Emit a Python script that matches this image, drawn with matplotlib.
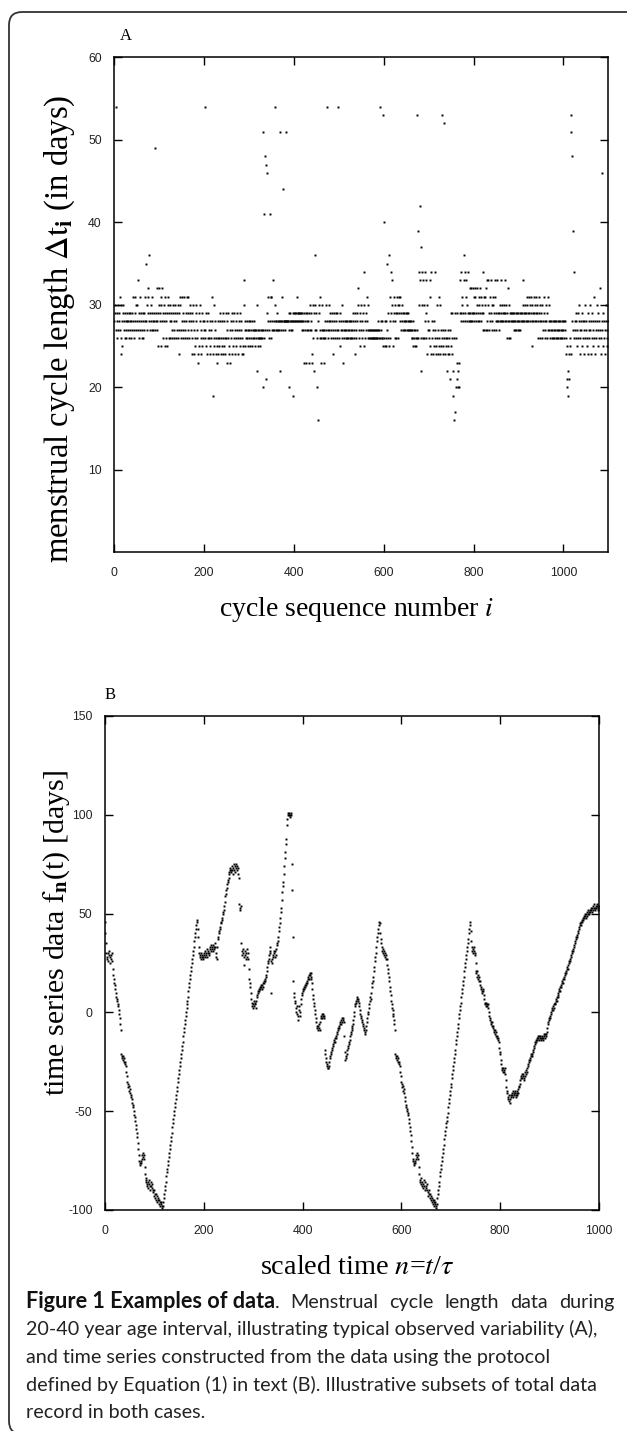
import matplotlib
matplotlib.use("Agg")
import matplotlib.pyplot as plt
import numpy as np
from matplotlib.patches import FancyBboxPatch
from matplotlib.transforms import IdentityTransform

# panel A: menstrual cycle length (days) for cycle i = 0, 1, 2, ...
cycle_days = np.array("""
28 30 29 54 27 28 26 29 30 27 28 29 31 27 30 26 24 25 28 30 29 27 28 26 29 28 27 26 28 29 27 28 29 26 28 27 29 28 26 27 29 28 31 27 26 29 28 31 27 30
30 28 33 27 29 26 28 31 27 29 28 26 27 29 28 26 29 27 28 31 35 28 30 27 32 29 31 28 36 27 29 30 28 31 27 29 28 27 29 28 27 49 28 29 32 27 28 29 25 30
32 29 28 25 30 31 28 32 29 26 30 28 25 29 31 26 28 25 29 31 30 26 29 28 30 26 29 28 27 26 29 30 28 27 26 29 30 28 26 27 29 30 26 27 24 29 30 31 27 26
28 31 27 26 29 28 31 26 27 29 28 31 26 29 27 31 28 26 29 30 27 28 24 26 29 30 28 27 24 26 25 29 28 30 26 27 24 23 29 25 28 30 26 27 24 29 25 28 26 27
28 26 54 27 29 25 24 28 26 29 27 26 24 28 25 27 26 31 28 24 19 30 26 25 27 28 24 26 23 25 26 28 24 25 26 28 29 24 26 25 28 26 29 24 25 28 26 24 29 26
23 27 28 26 29 24 25 23 27 28 26 29 24 27 28 25 26 29 27 24 28 26 25 27 29 24 26 28 27 25 26 29 27 28 24 26 25 24 30 33 27 28 25 26 27 28 26 25 27 28
26 27 28 25 26 27 28 25 27 26 28 27 26 25 27 26 27 22 30 26 27 25 26 27 26 25 27 26 27 26 51 27 20 26 41 27 48 21 47 29 46 27 28 31 26 27 41 28 26 31
31 27 28 27 33 28 27 30 54 28 27 28 29 27 28 27 28 27 28 22 51 28 27 31 28 27 44 28 28 27 28 28 28 51 28 28 28 28 20 29 27 28 29 27 28 27 28 29 28 19
28 29 28 29 28 29 31 28 29 28 29 28 29 28 29 28 29 27 28 29 27 28 23 29 27 28 29 23 27 28 29 27 28 23 29 27 30 28 29 27 23 24 30 26 22 29 27 36 30 29
27 26 20 16 28 29 30 26 27 31 23 26 27 30 26 27 23 26 27 28 26 27 30 28 54 26 27 28 30 27 29 28 26 27 29 28 24 27 26 29 28 27 26 29 28 27 26 29 54 27
28 26 29 25 27 28 30 26 27 28 23 27 26 28 27 26 28 27 26 28 27 26 28 27 26 28 27 26 28 27 26 28 29 27 26 24 28 29 27 26 28 29 32 30 27 26 28 25 29 30
27 28 26 29 27 34 30 25 28 26 27 29 31 28 26 30 27 26 27 26 27 26 27 26 27 26 27 26 27 26 26 27 26 27 26 27 26 27 28 26 27 54 26 28 27 26 28 26 53 25
26 40 25 28 26 25 28 35 27 26 29 25 36 28 31 26 34 29 30 33 28 25 29 31 26 30 28 29 26 31 29 30 26 31 29 30 28 31 27 29 28 30 27 29 28 27 29 28 27 29
28 27 29 28 27 29 28 27 28 27 27 28 26 27 26 28 25 27 26 25 27 26 25 53 26 27 26 39 30 34 42 33 37 26 22 30 34 26 33 30 26 34 28 29 33 26 24 30 28 27
26 27 33 31 25 34 24 28 26 27 24 28 25 34 26 27 24 25 30 26 27 24 31 25 26 30 24 27 25 53 26 24 27 25 26 52 24 27 25 26 22 26 24 27 25 26 24 27 21 25
29 26 24 29 22 19 16 26 29 17 20 26 23 29 21 20 22 23 20 29 33 29 34 28 30 31 29 28 33 36 29 34 28 31 33 30 28 29 34 28 29 28 32 29 28 32 29 28 32 29
31 28 29 32 31 28 29 30 32 28 29 31 30 28 32 29 31 28 29 30 34 27 29 31 27 30 31 27 32 33 28 27 30 33 29 27 31 28 33 29 30 27 28 31 30 29 27 33 31 28
29 27 28 33 29 28 27 29 28 30 28 29 33 28 30 29 28 30 29 28 33 29 30 28 26 29 28 32 26 30 28 29 26 28 29 28 29 28 29 27 28 29 27 28 29 27 28 29 28 27
29 28 27 29 27 28 29 28 29 33 28 30 29 28 29 30 28 29 31 28 30 29 28 31 29 30 28 29 31 25 28 30 29 28 31 29 28 30 29 31 28 29 30 28 26 29 31 28 30 26
28 29 26 30 28 27 29 31 26 28 27 30 28 29 26 27 31 28 30 27 28 26 27 28 26 27 28 26 27 28 26 28 27 26 28 27 26 28 27 26 28 27 26 28 27 26 28 27 26 28
27 28 26 28 27 26 24 25 21 20 19 22 21 24 25 26 53 51 24 28 48 27 39 26 34 28 27 29 26 28 25 27 29 26 28 30 24 27 26 28 27 25 29 28 26 27 24 28 30 26
28 27 25 26 29 24 27 28 26 30 27 28 24 26 29 27 25 28 31 26 28 24 27 26 30 28 25 27 29 26 28 27 32 24 26 46 28 27 25 29 26 28 24 27 30 28 26 25 27 28
""".split(), dtype=float)

# panel B: time series f_n(t) in days for scaled time n = 0, 1, 2, ...
series_days = np.array("""
46 40 35 30 28 27 30 26 29 31 28 25 27 29 30 26 22 19 17 15
14 12 10 8 7 6 4 3 1 -1 -3 -6 -9 -21 -22 -23 -22 -24 -25 -23
-26 -25 -27 -30 -32 -35 -36 -38 -37 -40 -39 -41 -43 -42 -44 -46 -47 -48 -50 -52
-53 -55 -57 -59 -61 -63 -66 -69 -72 -75 -76 -77 -75 -76 -74 -72 -71 -73 -72 -74
-78 -82 -85 -86 -84 -87 -88 -86 -89 -87 -85 -88 -90 -86 -88 -89 -87 -90 -91 -93
-90 -92 -94 -92 -95 -93 -96 -94 -95 -97 -95 -96 -98 -97 -96 -98 -99 -98 -96 -94
-92 -90 -88 -86 -83 -81 -79 -77 -75 -73 -71 -69 -67 -65 -63 -61 -58 -56 -54 -52
-50 -48 -46 -44 -42 -40 -38 -35 -33 -31 -29 -27 -25 -23 -21 -19 -17 -15 -12 -10
-8 -6 -4 -2 0 2 4 6 8 11 13 15 17 19 21 23 25 27 29 31
33 36 38 40 42 44 46 47 42 38 33 30 28 29 27 30 28 29 27 28
30 29 28 31 29 30 28 32 30 31 29 30 32 33 31 34 32 33 31 34
33 32 35 33 30 28 27 33 37 38 40 41 42 43 45 46 47 48 50 51
52 54 56 59 60 62 63 65 66 67 68 70 71 72 73 72 71 74 72 70
73 75 72 74 71 73 75 72 74 70 73 68 55 53 52 54 35 31 29 32
30 24 28 31 29 27 30 32 28 30 27 22 17 15 13 10 7 5 3 4
2 6 3 5 4 2 6 8 9 11 10 12 11 13 12 14 13 12 14 15
13 16 15 17 16 18 19 21 23 25 26 27 29 31 33 30 26 10 27 25
28 29 31 30 28 31 29 32 34 35 36 38 41 43 45 48 51 53 57 61
64 66 70 74 78 81 85 88 95 98 100 101 100 101 99 100 101 100 75 62
38 16 10 8 6 5 2 0 3 -1 -2 -4 1 3 -2 0 4 7 10 9
12 11 13 12 14 13 15 14 16 15 17 18 17 19 20 19 18 20 17 15
12 9 7 5 3 1 -1 -3 -5 -7 -8 -9 -7 -8 -6 -9 -5 -3 -2 -3
-1 -2 -1 -3 -2 -19 -21 -23 -25 -26 -27 -28 -28 -27 -25 -23 -22 -21 -20 -19
-18 -17 -16 -15 -14 -15 -13 -12 -13 -11 -10 -9 -8 -8 -7 -6 -5 -6 -4 -5
-3 -4 -3 -5 -12 -20 -24 -23 -22 -21 -19 -18 -17 -16 -15 -14 -12 -11 -10 -9
-8 -7 -6 -4 -2 0 3 4 5 6 7 8 7 6 5 3 1 -1 -2 -3
-4 -5 -6 -7 -8 -9 -10 -11 -9 -7 -5 -3 -1 0 2 4 6 8 7 10
13 15 16 18 21 23 26 28 30 33 36 38 40 42 44 46 45 40 37 35
33 31 30 32 29 31 28 30 27 29 27 24 22 20 18 16 13 11 9 6
4 2 1 -1 -2 -4 -6 -9 -21 -22 -23 -22 -24 -25 -23 -26 -25 -27 -30 -32
-35 -36 -38 -37 -40 -39 -41 -43 -45 -47 -48 -49 -50 -51 -52 -54 -56 -58 -60 -62
-65 -68 -71 -74 -75 -76 -77 -75 -76 -74 -72 -71 -73 -72 -74 -78 -82 -85 -86 -84
-87 -88 -86 -89 -87 -85 -88 -90 -86 -88 -89 -87 -90 -91 -93 -90 -92 -94 -92 -95
-93 -96 -94 -95 -97 -95 -96 -98 -97 -96 -98 -99 -97 -94 -92 -90 -88 -86 -83 -81
-79 -77 -75 -73 -71 -69 -67 -64 -62 -60 -58 -56 -55 -53 -51 -48 -46 -44 -42 -40
-38 -36 -33 -31 -29 -27 -25 -23 -21 -19 -16 -14 -12 -10 -8 -6 -3 -1 1 3
5 8 10 12 14 16 18 21 23 25 27 29 31 33 35 37 40 42 44 46
41 36 33 31 30 32 31 33 30 29 25 21 20 18 21 19 17 16 18 16
14 12 13 11 10 12 11 9 7 5 4 3 5 4 3 4 2 0 -2 -3
-4 -5 -6 -7 -5 -8 -7 -9 -10 -9 -11 -12 -10 -13 -12 -14 -13 -15 -18 -20
-21 -24 -26 -28 -29 -28 -30 -29 -30 -28 -31 -34 -38 -40 -41 -43 -44 -42 -45 -46
-44 -43 -42 -41 -42 -40 -43 -41 -42 -40 -41 -43 -42 -41 -40 -42 -41 -39 -38 -37
-36 -34 -33 -32 -31 -33 -32 -31 -34 -33 -32 -30 -31 -29 -30 -28 -27 -26 -25 -24
-24 -23 -22 -21 -22 -21 -20 -19 -18 -17 -16 -15 -15 -14 -13 -14 -12 -13 -14 -12
-13 -12 -13 -14 -13 -12 -14 -13 -11 -12 -13 -11 -12 -11 -10 -8 -6 -5 -4 -3
-3 -2 0 -1 1 2 1 3 2 4 5 4 6 7 6 8 9 8 10 11
12 11 13 14 13 15 16 15 17 18 17 19 20 21 20 22 23 22 24 25
26 27 26 28 29 30 31 32 31 33 34 35 36 37 38 39 38 40 41 42
43 44 45 44 46 47 46 48 47 49 48 50 49 48 50 51 49 50 52 51
50 52 51 53 52 51 53 54 52 53 55 53 52 54 53 55 54 52 53 54
""".split(), dtype=float)

a_xticks = [0, 200, 400, 600, 800, 1000]
a_yticks = [10, 20, 30, 40, 50, 60]
b_xticks = [0, 200, 400, 600, 800, 1000]
b_yticks = [-100, -50, 0, 50, 100, 150]

caption_bold = "Figure 1 Examples of data"
caption_first = ["Menstrual", "cycle", "length", "data", "during"]
caption_rest = [
    "20-40 year age interval, illustrating typical observed variability (A),",
    "and time series constructed from the data using the protocol",
    "defined by Equation (1) in text (B). Illustrative subsets of total data",
    "record in both cases.",
]

W, H = 627, 1431
plt.rcParams["mathtext.fontset"] = "stix"
plt.rcParams["axes.unicode_minus"] = False
fig = plt.figure(figsize=(W / 100, H / 100), dpi=100)
renderer = fig.canvas.get_renderer()


def box(x0, y0, x1, y1):
    # pixel box (top-left origin) -> figure fraction rect
    return [x0 / W, 1 - y1 / H, (x1 - x0) / W, (y1 - y0) / H]


def style(ax):
    for s in ax.spines.values():
        s.set_linewidth(1.1)
    ax.tick_params(direction="in", length=5.8, width=1.0, top=True, right=True,
                   labelsize=8.8, colors="black", labelcolor="#222222")
    ax.tick_params(axis="y", pad=9.0)
    ax.tick_params(axis="x", pad=10.5)
    for lab in ax.get_xticklabels() + ax.get_yticklabels():
        lab.set_family("Liberation Sans")


serif = "Liberation Serif"

# ---- panel A
axA = fig.add_axes(box(114.3, 57.3, 608.3, 552.3))
axA.plot(np.arange(len(cycle_days)), cycle_days, ls="none", marker="s",
         ms=1.4, mew=0, color="black")
axA.set_xlim(0, 1100)
axA.set_ylim(0, 60)
axA.set_xticks(a_xticks)
axA.set_yticks(a_yticks)
style(axA)

fig.text(126 / W, 1 - 36 / H, "A", family=serif, fontsize=12, ha="center", va="center")
fig.text(60 / W, 1 - 329 / H, r"menstrual cycle length $\Delta\mathrm{t}_{\mathbf{i}}$ (in days)",
         family=serif, fontsize=23.5, rotation=90, ha="center", va="center")
fig.text(357 / W, 1 - 609 / H, r"cycle sequence number $i$",
         family=serif, fontsize=20, ha="center", va="center")

# ---- panel B
axB = fig.add_axes(box(105, 716, 599, 1210))
axB.plot(np.arange(len(series_days)), series_days, ls="none", marker="s",
         ms=1.4, mew=0, color="black")
axB.set_xlim(0, 1000)
axB.set_ylim(-100, 150)
axB.set_xticks(b_xticks)
axB.set_yticks(b_yticks)
style(axB)

fig.text(110 / W, 1 - 695 / H, "B", family=serif, fontsize=12, ha="center", va="center")
fig.text(57 / W, 1 - 933 / H, r"time series data $\mathrm{f}_{\mathbf{n}}$(t) [days]",
         family=serif, fontsize=21.5, rotation=90, ha="center", va="center")
fig.text(357 / W, 1 - 1268 / H, r"scaled time $n$=$t$/$\tau$",
         family=serif, fontsize=20.3, ha="center", va="center")

# ---- caption
cap_font = "Lato"
cap_size = 14.2
cap_left, cap_right = 26, 614
base0, step = 1308, 27.5
y1 = 1 - base0 / H
t0 = fig.text(cap_left / W, y1, caption_bold, family=cap_font, fontsize=15.6,
              weight="bold", color="#111111", va="baseline")
x = t0.get_window_extent(renderer=renderer).x1
dot = fig.text(x / W, y1, ".", family=cap_font, fontsize=cap_size,
               color="#222222", va="baseline")
x = dot.get_window_extent(renderer=renderer).x1
# first line is justified to the right margin
words = [fig.text(0, y1, w, family=cap_font, fontsize=cap_size, color="#222222",
                  va="baseline") for w in caption_first]
widths = [w.get_window_extent(renderer=renderer).width for w in words]
gap = (cap_right - x - sum(widths)) / len(words)
for w, wd in zip(words, widths):
    x += gap
    w.set_x(x / W)
    x += wd
for k, line in enumerate(caption_rest):
    fig.text(cap_left / W, 1 - (base0 + step * (k + 1)) / H, line, family=cap_font,
             fontsize=cap_size, color="#222222", va="baseline")

# ---- outer rounded frame (partly off canvas, as in the source page)
frame = FancyBboxPatch((9, -3), 640, H - 12 + 3, boxstyle="round,pad=0,rounding_size=13",
                       transform=IdentityTransform(), fill=False, lw=1.3, ec="#333333")
fig.patches.append(frame)

fig.savefig("out.png", dpi=100)
